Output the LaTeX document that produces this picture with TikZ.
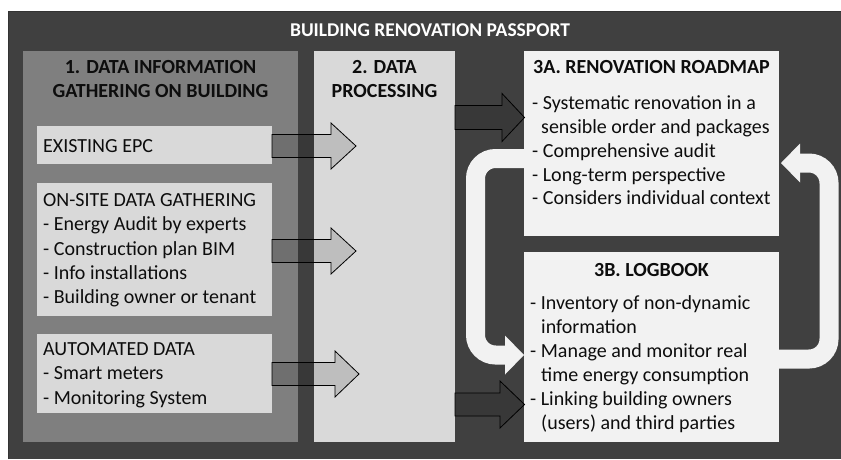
\documentclass[tikz,border=0pt]{standalone}
\usepackage{fontspec}
\setmainfont{Carlito}
\definecolor{bgdark}{HTML}{404040}
\definecolor{panelmid}{HTML}{7F7F7F}
\definecolor{panellight}{HTML}{D9D9D9}
\definecolor{boxwhite}{HTML}{F2F2F2}
\definecolor{ink}{HTML}{0D0D0D}
\tikzset{
  area/.style={anchor=north west, inner sep=0pt, outer sep=0pt, draw=none},
  body/.style={anchor=base west, inner sep=0pt, text=ink, font=\fontsize{20}{24}\selectfont},
  heading/.style={anchor=base, inner sep=0pt, text=ink, font=\fontsize{20}{24}\selectfont\bfseries},
  blockarrow/.style={draw=black, line width=0.8pt, fill=black, fill opacity=0.12, line join=miter},
  looparrow/.style={draw=boxwhite, line width=19pt, rounded corners=20pt},
  loophead/.style={fill=boxwhite, draw=none}
}
% block arrow: start x, head base x, tip x, centre y, shaft half height, head half height
\newcommand{\flowarrow}[6]{%
  \path[blockarrow] (#1,#4-#5) -- (#2,#4-#5) -- (#2,#4-#6) -- (#3,#4)
    -- (#2,#4+#6) -- (#2,#4+#5) -- (#1,#4+#5) -- cycle;}
\begin{document}
\begin{tikzpicture}[x=1pt,y=-1pt]
\useasboundingbox (0,0) rectangle (841,459);
\fill[white] (0,0) rectangle (841,459);
\fill[bgdark] (8,11) rectangle (841,459);
\draw[black!80, line width=0.6pt] (8.3,459) -- (8.3,11.3) -- (841,11.3);

% title
\node[anchor=base, inner sep=0pt, text=white, font=\fontsize{19.5}{22}\selectfont\bfseries]
  (title) at (430,36.5) {BUILDING RENOVATION PASSPORT};

% column panels
\node[area, fill=panelmid, minimum width=275pt, minimum height=391pt] (gather) at (23,51) {};
\node[area, fill=panellight, minimum width=141pt, minimum height=391pt] (process) at (314,51) {};

% input boxes
\node[area, fill=panellight, minimum width=235pt, minimum height=38pt] (epc) at (37,126) {};
\node[area, fill=panellight, minimum width=235pt, minimum height=133pt] (onsite) at (37,183) {};
\node[area, fill=panellight, minimum width=235pt, minimum height=79pt] (auto) at (37,334) {};

% output boxes
\node[area, fill=boxwhite, minimum width=255pt, minimum height=185pt] (roadmap) at (524,51) {};
\node[area, fill=boxwhite, minimum width=255pt, minimum height=190pt] (logbook) at (524,252) {};

% feedback loop between roadmap and logbook
\draw[looparrow] (roadmap.west |- 0,158.5) -- (475.5,158.5) -- (475.5,355) -- (506,355);
\path[loophead] (505,335.5) -- (roadmap.west |- 0,355) -- (505,374.5) -- cycle;
\draw[looparrow] (logbook.east |- 0,359) -- (829,359) -- (829,163) -- (799,163);
\path[loophead] (800,143.5) -- (781,163) -- (800,182.5) -- cycle;

% flow arrows
\flowarrow{272}{331}{356}{146}{11.5}{23}
\flowarrow{272}{331}{356}{251}{11.5}{23}
\flowarrow{272}{335}{359}{374}{11.5}{23}
\flowarrow{455}{502}{524.5}{117.5}{12}{24}
\flowarrow{455}{500}{524.5}{404.5}{11.5}{23.5}

% column headings
\node[heading] (h1a) at (160.5,73) {1. DATA INFORMATION};
\node[heading] (h1b) at (160.5,97) {GATHERING ON BUILDING};
\node[heading] (h2a) at (384.5,73) {2. DATA};
\node[heading] (h2b) at (384.5,97) {PROCESSING};
\node[heading] (h3a) at (651.5,73) {3A. RENOVATION ROADMAP};
\node[heading] (h3b) at (651.5,276) {3B. LOGBOOK};

% input box texts
\node[body] (epct) at (43,152) {EXISTING EPC};
\node[body] (os1) at (43,206) {ON-SITE DATA GATHERING};
\node[body] (os2) at (43,230.5) {- Energy Audit by experts};
\node[body] (os3) at (43,255) {- Construction plan BIM};
\node[body] (os4) at (43,279) {- Info installations};
\node[body] (os5) at (43,303) {- Building owner or tenant};
\node[body] (au1) at (43,355) {AUTOMATED DATA};
\node[body] (au2) at (43,379.5) {- Smart meters};
\node[body] (au3) at (43,404) {- Monitoring System};

% roadmap texts
\node[body] (rm1) at (532,109) {- Systematic renovation in a};
\node[body] (rm2) at (541,133) {sensible order and packages};
\node[body] (rm3) at (532,157) {- Comprehensive audit};
\node[body] (rm4) at (532,181) {- Long-term perspective};
\node[body] (rm5) at (532,204.5) {- Considers individual context};

% logbook texts
\node[body] (lb1) at (530,309) {- Inventory of non-dynamic};
\node[body] (lb2) at (541,333) {information};
\node[body] (lb3) at (530,357.5) {- Manage and monitor real};
\node[body] (lb4) at (541,381.5) {time energy consumption};
\node[body] (lb5) at (530,405.5) {- Linking building owners};
\node[body] (lb6) at (541,429.5) {(users) and third parties};
\end{tikzpicture}
\end{document}
